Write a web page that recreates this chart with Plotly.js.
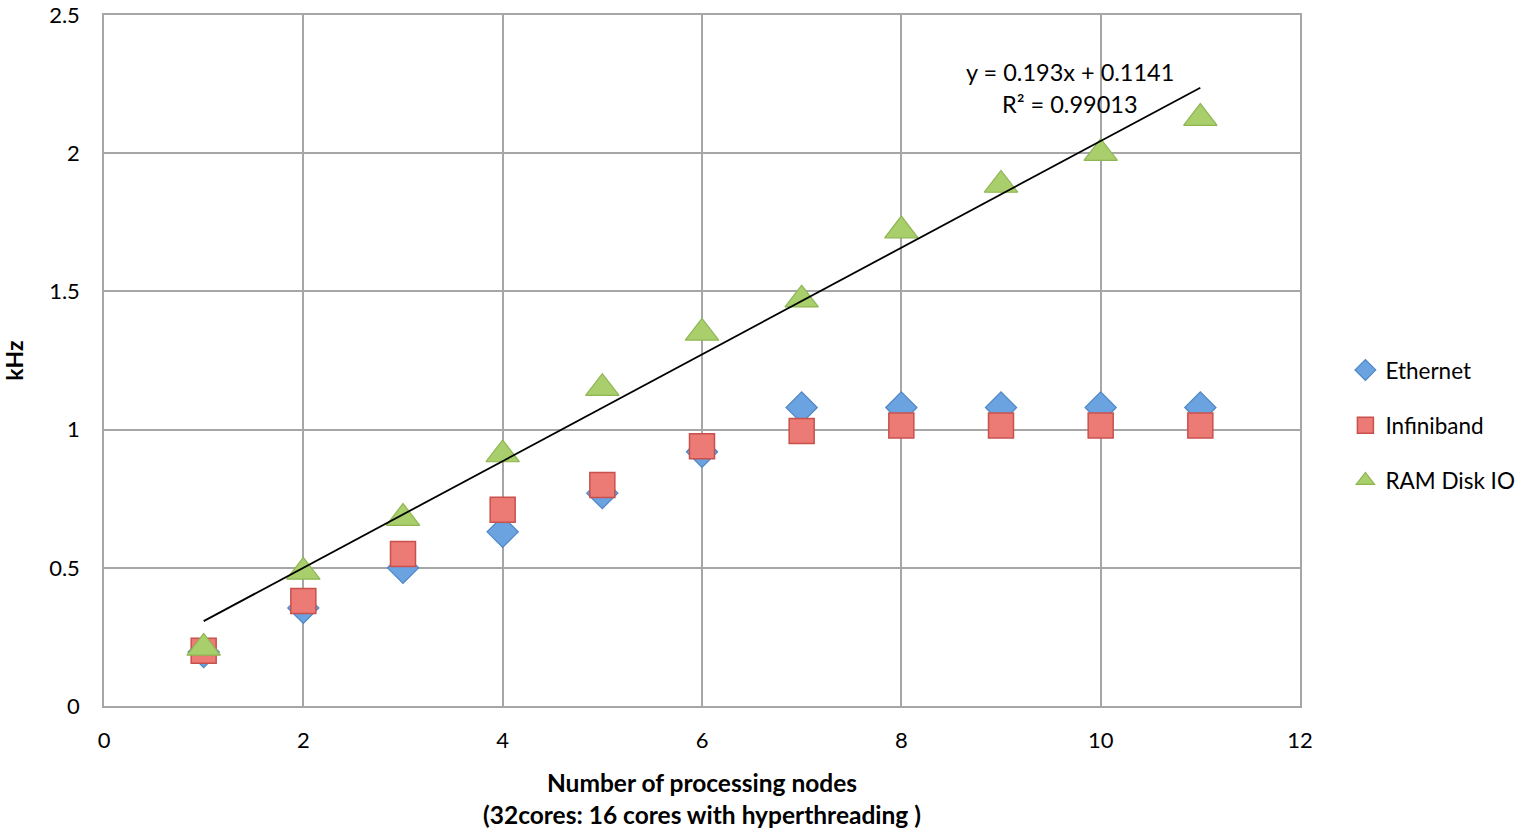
<!DOCTYPE html>
<html>
<head>
<meta charset="utf-8">
<script src="https://cdn.plot.ly/plotly-3.0.1.min.js"></script>
<style>html,body{margin:0;padding:0;background:#fff;}#chart{width:1528px;height:829px;}</style>
</head>
<body>
<div id="chart"></div>
<script>
const nodes = [1, 2, 3, 4, 5, 6, 7, 8, 9, 10, 11];
const ethernet = [0.195, 0.355, 0.50, 0.63, 0.77, 0.92, 1.08, 1.08, 1.08, 1.08, 1.08];
const infiniband = [0.20, 0.38, 0.55, 0.71, 0.80, 0.94, 0.995, 1.015, 1.015, 1.015, 1.015];
const ramDisk = [0.21, 0.485, 0.68, 0.91, 1.15, 1.35, 1.47, 1.72, 1.885, 2.0, 2.127];
const trendSlope = 0.193;
const trendIntercept = 0.1141;
const trendR2 = 0.99013;
const trendX = [1, 11];
const trendY = trendX.map(x => trendSlope * x + trendIntercept);

const FONT = 'Lato, "Open Sans", sans-serif';

const traces = [
  {x: nodes, y: ethernet, name: 'Ethernet', type: 'scatter', mode: 'markers', legendgroup: 'a',
   marker: {symbol: 'diamond', size: 24, color: '#6aa3e0', line: {color: '#4f86c6', width: 1.2}}},
  {x: nodes, y: infiniband, name: 'Infiniband', type: 'scatter', mode: 'markers', legendgroup: 'b',
   marker: {symbol: 'square', size: 25, color: '#ec7a75', line: {color: '#c9514d', width: 1.5}}},
  {x: nodes, y: ramDisk, name: 'RAM Disk IO', type: 'scatter', mode: 'markers', legendgroup: 'c',
   marker: {symbol: 'triangle-up', size: 29, color: '#a8cf6c', line: {color: '#8fb553', width: 1.2}}},
  {x: trendX, y: trendY, type: 'scatter', mode: 'lines', showlegend: false, hoverinfo: 'skip',
   line: {color: '#000', width: 1.8}}
];

const layout = {
  width: 1528, height: 829,
  margin: {l: 104, r: 228, t: 15, b: 123},
  paper_bgcolor: '#fff', plot_bgcolor: '#fff',
  font: {family: FONT, size: 22, color: '#000'},
  showlegend: true,
  legend: {xref: 'container', yref: 'container', x: 0.8805, y: 0.487, xanchor: 'left', yanchor: 'middle',
           font: {family: FONT, size: 22.5, color: '#000'}, tracegroupgap: 23,
           itemwidth: 30, bgcolor: 'rgba(0,0,0,0)', borderwidth: 0},
  xaxis: {range: [0, 12], dtick: 2, tick0: 0, showgrid: true, gridcolor: '#a6a6a6', gridwidth: 1.5,
          zeroline: false, showline: true, linecolor: '#a6a6a6', linewidth: 1.5, mirror: true,
          ticks: '', ticklabelstandoff: 14, tickfont: {family: FONT, size: 22},
          title: {text: '<b>Number of processing nodes<br>(32cores: 16 cores with hyperthreading )</b>',
                  font: {family: FONT, size: 24.5}, standoff: 23}},
  yaxis: {range: [0, 2.5], dtick: 0.5, tick0: 0, showgrid: true, gridcolor: '#a6a6a6', gridwidth: 1.5,
          zeroline: false, showline: true, linecolor: '#a6a6a6', linewidth: 1.5, mirror: true,
          ticks: '', ticklabelstandoff: 18, tickfont: {family: FONT, size: 22},
          title: {text: '<b>kHz</b>', font: {family: FONT, size: 23}, standoff: 22}},
  annotations: [
    {x: 9.69, y: 2.294, xref: 'x', yref: 'y', xanchor: 'center', yanchor: 'middle', showarrow: false,
     font: {family: FONT, size: 23.5, color: '#000'},
     text: 'y = ' + trendSlope + 'x + ' + trendIntercept},
    {x: 9.69, y: 2.178, xref: 'x', yref: 'y', xanchor: 'center', yanchor: 'middle', showarrow: false,
     font: {family: FONT, size: 23.5, color: '#000'},
     text: 'R² = ' + trendR2}
  ]
};

Plotly.newPlot('chart', traces, layout, {displayModeBar: false, responsive: false});
</script>
</body>
</html>
